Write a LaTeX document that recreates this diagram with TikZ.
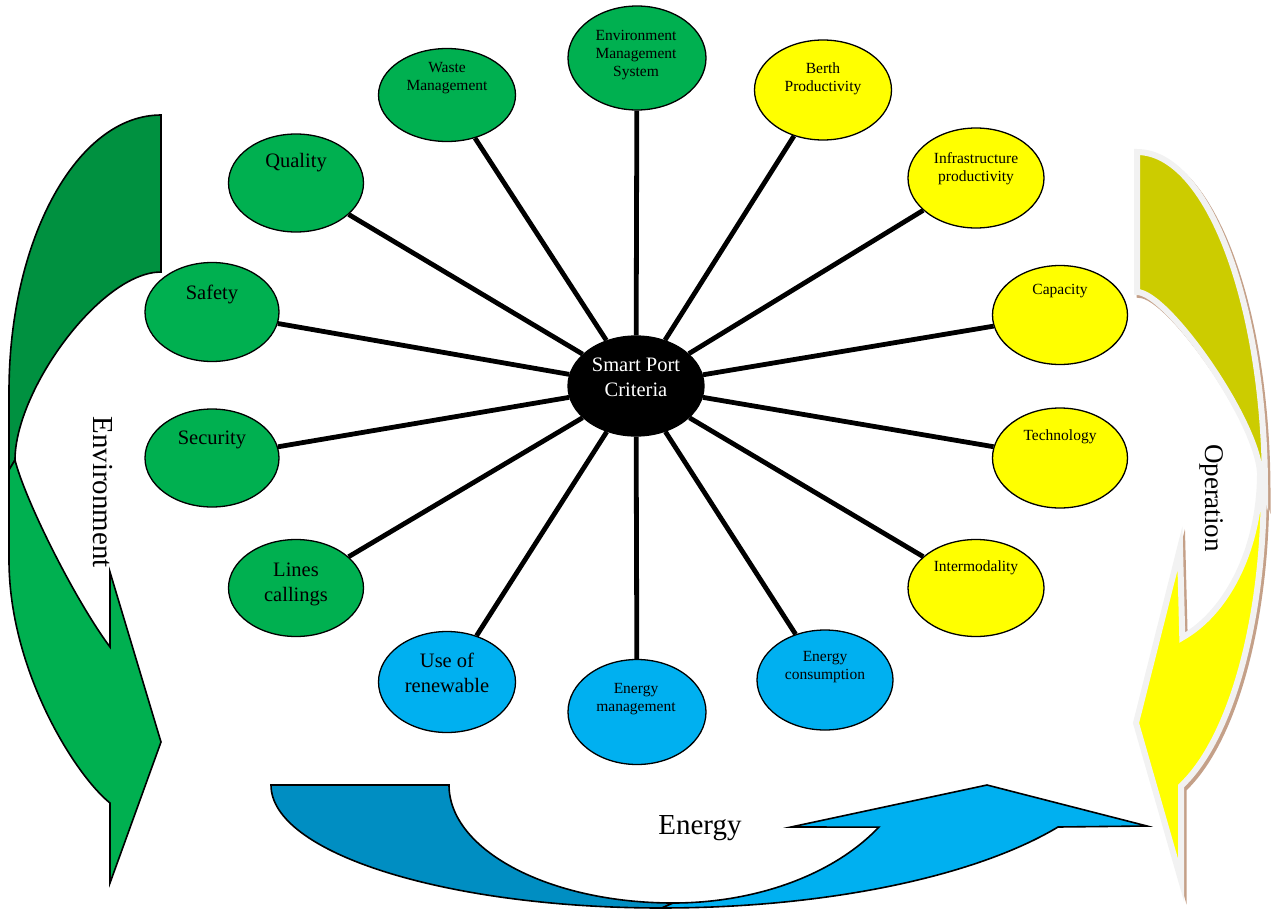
\documentclass[tikz,border=0pt]{standalone}
\usepackage{fontspec}
\setmainfont{Liberation Serif}
\usetikzlibrary{shapes.geometric}
\definecolor{pgreen}{RGB}{0,176,80}
\definecolor{dgreen}{RGB}{0,145,64}
\definecolor{pyellow}{RGB}{255,255,0}
\definecolor{polive}{RGB}{204,204,0}
\definecolor{pblue}{RGB}{0,176,240}
\definecolor{dblue}{RGB}{0,142,194}
\definecolor{rimgray}{RGB}{242,242,242}
\definecolor{rimbrown}{RGB}{196,160,136}
\begin{document}
\begin{tikzpicture}[x=1pt,y=1pt,
  crit/.style={ellipse, draw=black, line width=1.3pt, minimum width=136pt, minimum height=100pt, inner sep=0pt},
  greenc/.style={crit, fill=pgreen},
  yellowc/.style={crit, fill=pyellow},
  bluec/.style={crit, fill=pblue},
  small/.style={font=\fontsize{15.5}{18}\selectfont, align=center, inner sep=0pt},
  big/.style={font=\fontsize{20.5}{25}\selectfont, align=center, inner sep=0pt},
  huge/.style={font=\fontsize{29}{34}\selectfont, inner sep=0pt},
  conn/.style={line width=4.8pt},
  bandline/.style={draw=black, line width=1.6pt, line join=miter},
  rim/.style={draw=rimgray, line width=6pt, line join=miter},
  rimshadow/.style={draw=rimbrown, line width=6pt, line join=miter}
]
\useasboundingbox (0,0) rectangle (1274,-910);

% ---------- Environment arrow (left) ----------
\draw[bandline, fill=dgreen] (161,-115) arc[start angle=90, end angle=180, x radius=152pt, y radius=277pt]
  -- (9,-470) -- (15,-460) .. controls (15,-390) and (101,-272) .. (161,-272) -- cycle;
\draw[bandline, fill=pgreen] (15,-460) .. controls (25,-500) and (75,-600) .. (110,-647)
  -- (110,-572) -- (161,-742) -- (110,-883) -- (110,-803)
  .. controls (75,-775) and (9,-670) .. (9,-560) -- (9,-470) -- cycle;
\node[huge, rotate=-90] (envlabel) at (103,-492) {Environment};

% ---------- Operation arrow (right) ----------
\begin{scope}[shift={(2.5,-3)}]
\draw[rimshadow] (1137,-152) arc[start angle=90, end angle=0, x radius=128pt, y radius=338pt]
  -- (1260,-473) .. controls (1257,-420) and (1167,-292) .. (1137,-292) -- cycle;
\draw[rimshadow] (1260,-473) arc[start angle=0, end angle=-68.4, x radius=123pt, y radius=177pt]
  -- (1180,-548) -- (1136,-723) -- (1181,-880) -- (1181,-786)
  arc[start angle=-69.3, end angle=0, x radius=128pt, y radius=318pt] -- cycle;
\end{scope}
\draw[rim, fill=polive] (1137,-152) arc[start angle=90, end angle=0, x radius=128pt, y radius=338pt]
  -- (1260,-473) .. controls (1257,-420) and (1167,-292) .. (1137,-292) -- cycle;
\draw[rim, fill=pyellow] (1260,-473) arc[start angle=0, end angle=-68.4, x radius=123pt, y radius=177pt]
  -- (1180,-548) -- (1136,-723) -- (1181,-880) -- (1181,-786)
  arc[start angle=-69.3, end angle=0, x radius=128pt, y radius=318pt] -- cycle;
\node[huge, font=\fontsize{27}{32}\selectfont, rotate=-90] (oplabel) at (1212,-498) {Operation};

% ---------- Energy arrow (bottom) ----------
\draw[bandline, fill=dblue] (271,-785) arc[start angle=180, end angle=270, x radius=391pt, y radius=123pt]
  -- (673,-903) arc[start angle=270, end angle=180, x radius=224pt, y radius=118pt] -- cycle;
\draw[bandline, fill=pblue] (673,-903) arc[start angle=270, end angle=327.7, x radius=243.5pt, y radius=163pt]
  -- (791,-827) -- (987,-785) -- (1147,-826) -- (1058,-827)
  arc[start angle=328.8, end angle=270, x radius=463pt, y radius=168pt] -- cycle;
\node[huge] (enlabel) at (700,-828) {Energy};

% ---------- Criteria ellipses ----------
\node[crit, fill=black] (c) at (636,-386) {};
\node[greenc, minimum width=138pt, minimum height=104pt] (ems) at (637,-58) {};
\node[greenc, minimum width=137pt, minimum height=93pt] (waste) at (447,-95) {};
\node[yellowc, minimum width=137pt] (berth) at (823,-90) {};
\node[greenc, minimum width=135pt, minimum height=98pt] (quality) at (296,-183) {};
\node[yellowc] (infra) at (976,-178) {};
\node[greenc, minimum width=134pt, minimum height=99pt] (safety) at (212,-312) {};
\node[yellowc, minimum width=135pt, minimum height=99pt] (capacity) at (1060,-315) {};
\node[greenc, minimum width=134pt, minimum height=98pt] (security) at (212,-458) {};
\node[yellowc, minimum width=135pt] (tech) at (1060,-458) {};
\node[greenc, minimum width=135pt, minimum height=97pt] (lines) at (296,-588) {};
\node[yellowc, minimum height=97pt] (inter) at (976,-588) {};
\node[bluec, minimum width=137pt, minimum height=101pt] (renew) at (447,-682) {};
\node[bluec, minimum width=138pt, minimum height=105pt] (emgmt) at (637,-712) {};
\node[bluec] (econs) at (825,-680) {};

\foreach \n in {ems,waste,berth,quality,infra,safety,capacity,security,tech,lines,inter,renew,emgmt,econs}
  \draw[conn] (c) -- (\n);

% ---------- Labels ----------
\node[big, text=white] (ct) at (636,-377) {Smart Port\\Criteria};
\node[small] (emst) at (636,-55) {Environment\\Management\\System};
\node[small] (wastet) at (447,-78) {Waste\\Management};
\node[small] (bertht) at (823,-78.5) {Berth\\Productivity};
\node[big] (qualityt) at (296,-163) {Quality};
\node[small] (infrat) at (976,-169) {Infrastructure\\productivity};
\node[big] (safetyt) at (212,-294) {Safety};
\node[small] (capacityt) at (1060,-291) {Capacity};
\node[big] (securityt) at (212,-440) {Security};
\node[small] (techt) at (1060,-436.5) {Technology};
\node[big] (linest) at (296,-584) {Lines\\callings};
\node[small] (intert) at (976,-567.5) {Intermodality};
\node[big] (renewt) at (447,-673) {Use of\\renewable};
\node[small] (emgmtt) at (636,-699.5) {Energy\\management};
\node[small] (econst) at (825,-667) {Energy\\consumption};
\end{tikzpicture}
\end{document}
